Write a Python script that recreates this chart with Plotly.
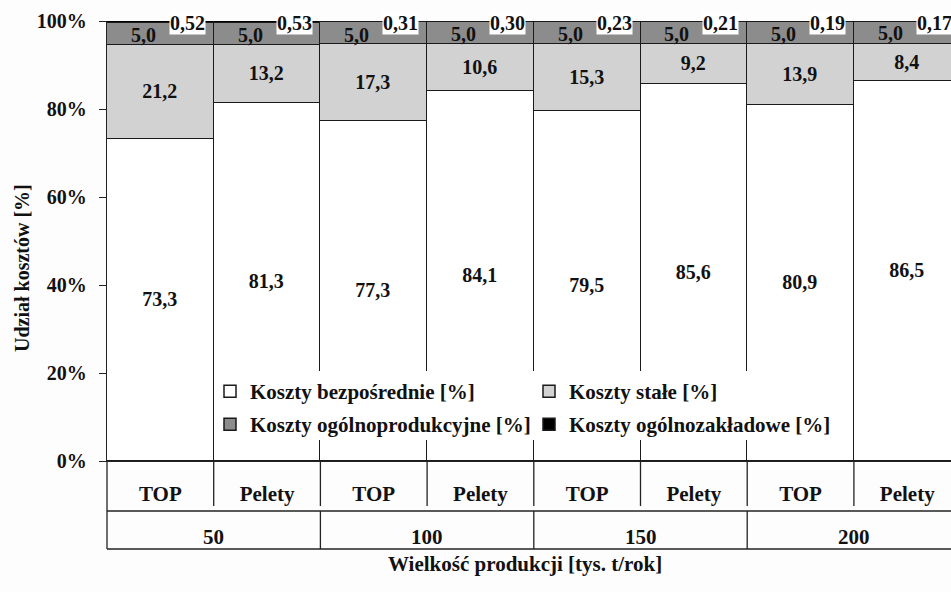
import plotly.graph_objects as go

sizes = ["50", "100", "150", "200"]
techs = ["TOP", "Pelety"]
series_names = ["Koszty bezpośrednie [%]", "Koszty stałe [%]",
                "Koszty ogólnoprodukcyjne [%]", "Koszty ogólnozakładowe [%]"]
direct = [73.3, 81.3, 77.3, 84.1, 79.5, 85.6, 80.9, 86.5]
fixed = [21.2, 13.2, 17.3, 10.6, 15.3, 9.2, 13.9, 8.4]
overhead_prod = [5.0, 5.0, 5.0, 5.0, 5.0, 5.0, 5.0, 5.0]
overhead_gen = [0.52, 0.53, 0.31, 0.30, 0.23, 0.21, 0.19, 0.17]
y_ticks = [0, 20, 40, 60, 80, 100]
x_title = "Wielkość produkcji [tys. t/rok]"
y_title = "Udział kosztów [%]"

FONT = "Liberation Serif"
INK = "#111111"
colors = ["#ffffff", "#d2d2d2", "#8c8c8c", "#000000"]

xcats = [f"{s}|{t}" for s in sizes for t in techs]
ticktext = [t for s in sizes for t in techs]


def fmt(v, d):
    return f"{v:.{d}f}".replace(".", ",")


def font(size, fam=FONT):
    return dict(family=fam, size=size, color=INK, weight="bold")


W, H = 951, 592
L, T, PB = 107, 21, 461
ph = PB - T


def py(pix):
    return (PB - pix) / ph


fig = go.Figure()
series = [direct, fixed, overhead_prod, overhead_gen]
for k, (name, vals) in enumerate(zip(series_names, series)):
    kw = {}
    if k < 2:
        kw = dict(text=[fmt(v, 1) for v in vals], textposition="inside",
                  insidetextanchor="middle", textangle=0, textfont=font(20))
    fig.add_trace(go.Bar(
        x=xcats, y=vals, name=name,
        marker=dict(color=colors[k], line=dict(color="#1a1a1a", width=1.5)),
        legend="legend" if k < 2 else "legend2",
        hoverinfo="skip", **kw))

annotations = []
for i in range(len(xcats)):
    annotations.append(dict(
        x=i, y=direct[i] + fixed[i] + overhead_prod[i] / 2, xref="x", yref="y",
        text=fmt(overhead_prod[i], 1), showarrow=False, xshift=-17, yshift=-1,
        font=font(20)))
    annotations.append(dict(
        x=i, y=100, xref="x", yref="y", text=fmt(overhead_gen[i], 2),
        showarrow=False, xshift=27, yshift=-2, bgcolor="#ffffff", borderpad=0,
        font=font(20)))

for g, s in enumerate(sizes):
    annotations.append(dict(
        x=g * 2 + 0.5, y=py(537), xref="x", yref="paper", text=s,
        showarrow=False, yanchor="middle", font=font(21)))

annotations.append(dict(
    x=(525 - L) / (W - L), y=py(564), xref="paper", yref="paper",
    text=x_title, showarrow=False, yanchor="middle", font=font(21)))
annotations.append(dict(
    x=-(L - 22) / (W - L), y=py(268), xref="paper", yref="paper",
    text=y_title, showarrow=False, textangle=-90,
    xanchor="center", yanchor="middle", font=font(20)))

shapes = []
line = dict(color="#222222", width=1.3)
shapes.append(dict(type="rect", xref="x", yref="paper", x0=0.52, x1=6.45,
                   y0=py(440), y1=py(371), fillcolor="#ffffff",
                   line=dict(width=0), layer="above"))
for k in range(1, len(xcats)):
    shapes.append(dict(type="line", xref="x", yref="paper", x0=k - 0.5, x1=k - 0.5,
                       y0=0, y1=py(506), line=line))
for g in range(1, len(sizes)):
    shapes.append(dict(type="line", xref="x", yref="paper", x0=g * 2 - 0.5, x1=g * 2 - 0.5,
                       y0=py(511), y1=py(549), line=line))
for yy in (511, 549):
    shapes.append(dict(type="line", xref="paper", yref="paper", x0=0, x1=1,
                       y0=py(yy), y1=py(yy), line=line))
shapes.append(dict(type="line", xref="paper", yref="paper", x0=0, x1=0,
                   y0=0, y1=py(549), line=line))

leg_x = (210 - L) / (W - L)
fig.update_layout(
    width=W, height=H,
    margin=dict(l=L, r=0, t=T, b=H - PB, pad=0, autoexpand=False),
    paper_bgcolor="#fdfdfd", plot_bgcolor="#fdfdfd",
    font=font(20),
    barmode="stack", barnorm="percent", bargap=0,
    showlegend=True,
    legend=dict(orientation="h", x=leg_x, y=py(371), xanchor="left",
                yanchor="top", entrywidth=274, entrywidthmode="pixels",
                bgcolor="rgba(0,0,0,0)", font=font(21), traceorder="normal"),
    legend2=dict(orientation="h", x=leg_x, y=py(404), xanchor="left",
                 yanchor="top", entrywidth=274, entrywidthmode="pixels",
                 bgcolor="rgba(0,0,0,0)", font=font(21), traceorder="normal"),
    xaxis=dict(type="category", range=[-0.5, 7.41], tickvals=xcats, ticktext=ticktext,
               showline=True, linecolor="#222222", linewidth=1.3, ticks="",
               ticklabelstandoff=14, showgrid=False, automargin=False,
               tickfont=font(21)),
    yaxis=dict(range=[0, 100], tickmode="array", tickvals=y_ticks,
               ticktext=[f"{v}%" for v in y_ticks], showline=True,
               linecolor="#222222", linewidth=1.3, ticks="outside", ticklen=7,
               tickcolor="#222222", tickwidth=1.3, showgrid=False, zeroline=False,
               ticklabelstandoff=8, automargin=False, tickfont=font(20)),
    annotations=annotations, shapes=shapes,
)

fig.write_html("out.html", config={"displayModeBar": False},
               post_script="document.body.style.margin='0';document.body.style.padding='0';")
